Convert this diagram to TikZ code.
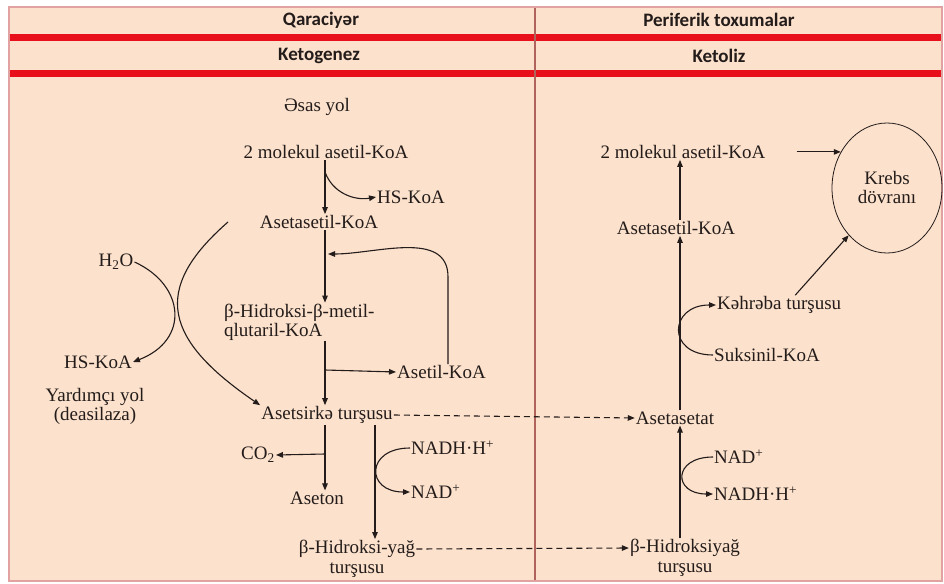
\documentclass[tikz,border=0pt]{standalone}
\usepackage{fontspec}
\setmainfont{Liberation Serif}
\newfontfamily\headfont{Carlito}
\usetikzlibrary{arrows.meta,positioning,shapes.geometric}
\definecolor{peach}{HTML}{FCE1CC}
\definecolor{rimpink}{HTML}{E3A2A2}
\definecolor{bandred}{HTML}{E8101A}
\definecolor{divbrown}{HTML}{B0625C}
\definecolor{ink}{HTML}{231C1A}

\begin{document}
\begin{tikzpicture}[x=1pt,y=-1pt,
    met/.style={font=\fontsize{19}{19}\selectfont, text=ink, inner sep=1pt, align=center},
    hdr/.style={font=\headfont\bfseries\fontsize{19}{19}\selectfont, text=ink},
    arr/.style={-{Triangle[length=7pt,width=5.5pt]}, line width=1.1pt, draw=ink},
    dasharr/.style={arr, dash pattern=on 6pt off 4pt}]
    \useasboundingbox (0,0) rectangle (944,583);

    %the table: frame, red bands and the column line
    \fill[peach] (9,7) rectangle (942,581);
    \fill[bandred] (9,34) rectangle (942,41);
    \fill[bandred] (9,70) rectangle (942,77);
    \draw[divbrown, line width=1.2pt] (535,7) -- (535,581);
    \draw[rimpink, line width=2pt] (9,7) rectangle (942,581);

    \node[hdr] (liver)   at (321,20) {Qaraciyər};
    \node[hdr] (tissue)  at (719,20) {Periferik toxumalar};
    \node[hdr] (ketogen) at (319,56) {Ketogenez};
    \node[hdr] (ketolys) at (719,56) {Ketoliz};

    %left column (ketogenesis)
    \node[met] (mainway) at (317,107) {Əsas yol};
    \node[met] (acL)     at (326,152) {2 molekul asetil-KoA};
    \node[met] (hscoaA)  at (411,197) {HS-KoA};
    \node[met] (aacL)    at (319,222) {Asetasetil-KoA};
    \node[met, align=left, anchor=west] (hmg) at (223,322)
        {β-Hidroksi-β-metil-\\qlutaril-KoA};
    \node[met, anchor=west] (acoa)   at (396,372) {Asetil-KoA};
    \node[met] (acac)    at (327,415) {Asetsirkə turşusu};
    \node[met] (co2)     at (258,455) {CO\textsubscript{2}};
    \node[met] (aceton)  at (317,498) {Aseton};
    \node[met, anchor=west] (nadhL) at (410,448) {NADH·H\textsuperscript{+}};
    \node[met, anchor=west] (nadL)  at (410,492) {NAD\textsuperscript{+}};
    \node[met] (hbutL)   at (357,549) {β-Hidroksi-yağ};
    \node[met] (hbutL2)  at (357,570) {turşusu};
    \node[met] (water)   at (116,262) {H\textsubscript{2}O};
    \node[met] (hscoaB)  at (98,362)  {HS-KoA};
    \node[met] (sideway) at (95,406)  {Yardımçı yol\\(deasilaza)};

    %right column (ketolysis)
    \node[met] (acR)     at (683,152) {2 molekul asetil-KoA};
    \node[met] (aacR)    at (676,228) {Asetasetil-KoA};
    \node[met, anchor=west] (succ)  at (716,305) {Kəhrəba turşusu};
    \node[met, anchor=west] (sucoa) at (713,355) {Suksinil-KoA};
    \node[met] (aat)     at (675,418) {Asetasetat};
    \node[met, anchor=west] (nadR)  at (713,457) {NAD\textsuperscript{+}};
    \node[met, anchor=west] (nadhR) at (713,494) {NADH·H\textsuperscript{+}};
    \node[met] (hbutR)   at (685,548) {β-Hidroksiyağ};
    \node[met] (hbutR2)  at (685,569) {turşusu};
    \node[met, draw=ink, line width=0.8pt, ellipse, minimum width=110pt,
          minimum height=130pt, inner sep=0pt] (krebs) at (887,188) {Krebs\\dövranı};

    %free ends of the side branches
    \coordinate (b1) at (325,172);
    \coordinate (b2) at (325,370);
    \coordinate (b3) at (325,454);
    \coordinate (sx) at (228,222);
    \coordinate (vx) at (375,0);
    \coordinate (fx) at (448,277);
    \coordinate (fy) at (328,254);
    \coordinate (rx) at (680,0);

    % ketogenez
    \draw[arr] (acL.south -| b1) -- (aacL.north -| b1);
    \draw[arr] (b1) to[out=-70,in=190] (hscoaA.west);
    \draw[arr] (aacL.south -| b1) -- (hmg.north -| b1);
    \draw[arr] (acoa.north -| fx) -- (fx) to[out=90,in=0] (fy);
    \draw[arr] (hmg.south -| b1) -- (acac.north -| b1);
    \draw[arr] (b2) -- (acoa.west);
    \draw[arr] (acac.south -| b1) -- (aceton.north -| b1);
    \draw[arr] (b3) -- (co2.east);
    \draw[arr] (acac.south -| vx) -- (hbutL.north -| vx);
    \draw[arr] (nadhL.west) to[out=180,in=180,looseness=2.6] (nadL.west);
    % yardimci yol
    \draw[arr] (sx) .. controls (150,290) and (165,340) .. (acac.north west);
    \draw[arr] (water.east) .. controls (185,285) and (190,340) .. (hscoaB.east);
    % transport to the tissues
    \draw[dasharr] (acac.east) -- (aat.west);
    \draw[dasharr] (hbutL.east) -- (hbutR.west);

    % ketoliz
    \draw[arr] (hbutR.north -| rx) -- (aat.south -| rx);
    \draw[arr] (nadR.west) to[out=180,in=180,looseness=2.8] (nadhR.west);
    \draw[arr] (aat.north -| rx) -- (aacR.south -| rx);
    \draw[arr] (sucoa.west) to[out=180,in=180,looseness=2.4] (succ.west);
    \draw[arr] (aacR.north -| rx) -- (acR.south -| rx);
    \draw[arr] ([xshift=30pt]acR.east |- krebs.142) -- (krebs.142);
    \draw[arr] ([xshift=16pt]succ.north) -- (krebs.231);
\end{tikzpicture}
\end{document}
